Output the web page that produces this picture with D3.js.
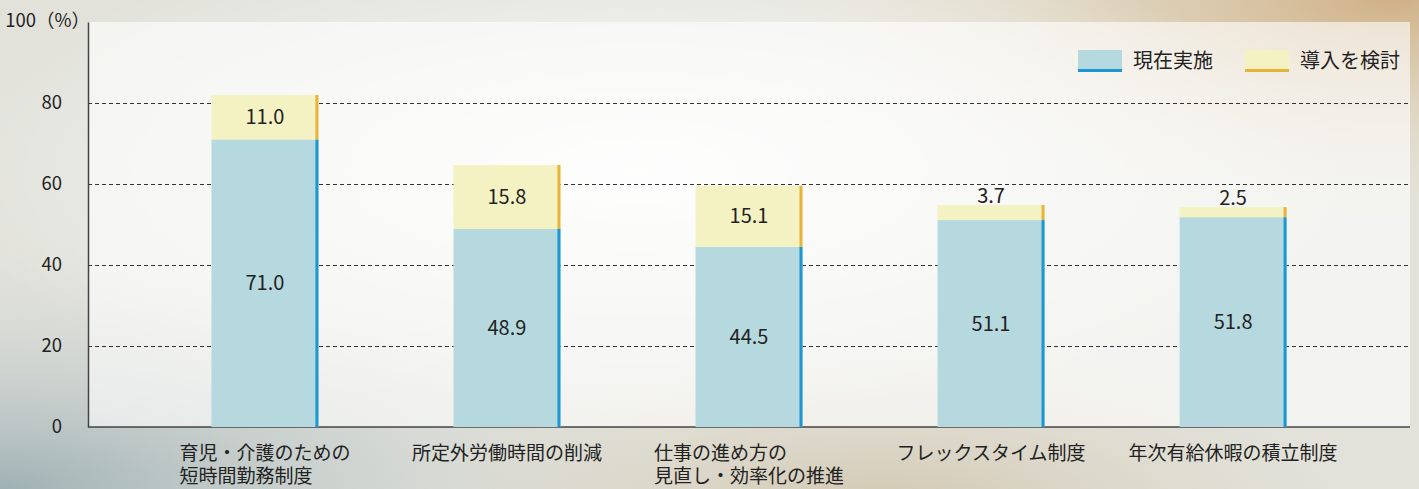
<!DOCTYPE html>
<html>
<head>
<meta charset="utf-8">
<script src="https://d3js.org/d3.v7.min.js"></script>
<style>
  body { margin: 0; background: #ecebe6; }
  svg text { font-family: "Noto Sans CJK JP", "Noto Sans", sans-serif; fill: #222; }
</style>
</head>
<body>
<div id="chart"></div>
<script>
// data
var categories = [
  ["育児・介護のための", "短時間勤務制度"],
  ["所定外労働時間の削減"],
  ["仕事の進め方の", "見直し・効率化の推進"],
  ["フレックスタイム制度"],
  ["年次有給休暇の積立制度"]
];
var current = [71.0, 48.9, 44.5, 51.1, 51.8];
var considering = [11.0, 15.8, 15.1, 3.7, 2.5];
var yTicks = [0, 20, 40, 60, 80, 100];
var seriesNames = ["現在実施", "導入を検討"];

var W = 1419, H = 489;
var margin = {left: 88, right: 9, top: 22, bottom: 62};

var svg = d3.select("#chart").append("svg")
  .attr("width", W).attr("height", H);

// background imitation of the photo
var defs = svg.append("defs");
var g1 = defs.append("radialGradient").attr("id", "bgGray")
  .attr("cx", 0.0).attr("cy", 1.0).attr("r", 0.5);
g1.append("stop").attr("offset", "0%").attr("stop-color", "#9fb1b4").attr("stop-opacity", 1);
g1.append("stop").attr("offset", "100%").attr("stop-color", "#d9dbd8").attr("stop-opacity", 0);
var g2 = defs.append("radialGradient").attr("id", "bgBeige")
  .attr("cx", 0.98).attr("cy", 0.0).attr("r", 0.45);
g2.append("stop").attr("offset", "0%").attr("stop-color", "#cfae82").attr("stop-opacity", 0.95);
g2.append("stop").attr("offset", "100%").attr("stop-color", "#e8e2c8").attr("stop-opacity", 0);
var g3 = defs.append("radialGradient").attr("id", "bgLight")
  .attr("cx", 0.45).attr("cy", 0.35).attr("r", 0.5);
g3.append("stop").attr("offset", "0%").attr("stop-color", "#ffffff").attr("stop-opacity", 0.9);
g3.append("stop").attr("offset", "100%").attr("stop-color", "#ffffff").attr("stop-opacity", 0);
var g4 = defs.append("radialGradient").attr("id", "bgBottom")
  .attr("cx", 0.62).attr("cy", 1.05).attr("r", 0.35);
g4.append("stop").attr("offset", "0%").attr("stop-color", "#c9b99a").attr("stop-opacity", 0.7);
g4.append("stop").attr("offset", "100%").attr("stop-color", "#dcd5c2").attr("stop-opacity", 0);

svg.append("rect").attr("width", W).attr("height", H).attr("fill", "#e2e2db");
svg.append("rect").attr("width", W).attr("height", H).attr("fill", "url(#bgGray)");
svg.append("rect").attr("width", W).attr("height", H).attr("fill", "url(#bgBottom)");
svg.append("rect").attr("width", W).attr("height", H).attr("fill", "url(#bgBeige)");
svg.append("rect").attr("width", W).attr("height", H).attr("fill", "url(#bgLight)");

var x = d3.scaleBand()
  .domain(d3.range(categories.length))
  .range([margin.left, W - margin.right])
  .paddingInner(0.558)
  .paddingOuter(0.51);

var y = d3.scaleLinear()
  .domain([0, 100])
  .range([H - margin.bottom, margin.top]);

// lighter plot area
svg.append("rect")
  .attr("x", margin.left).attr("y", y(100))
  .attr("width", W - margin.right - margin.left)
  .attr("height", y(0) - y(100))
  .attr("fill", "#ffffff").attr("opacity", 0.6);

// dashed grid lines
svg.append("g").selectAll("line")
  .data(yTicks.filter(function(d) { return d > 0 && d < 100; }))
  .enter().append("line")
  .attr("x1", margin.left).attr("x2", W - margin.right)
  .attr("y1", function(d) { return y(d) + 0.5; })
  .attr("y2", function(d) { return y(d) + 0.5; })
  .attr("stroke", "#333").attr("stroke-width", 1)
  .attr("stroke-dasharray", "4,3");

// y axis
var yAxis = svg.append("g")
  .attr("transform", "translate(" + margin.left + ",0)")
  .call(d3.axisLeft(y).tickValues(yTicks).tickSize(0).tickPadding(26)
    .tickFormat(function(d) { return d === 100 ? "100（%）" : d; }));
yAxis.select(".domain").attr("stroke", "#444").attr("stroke-width", 1.5);
yAxis.selectAll("text")
  .style("font-size", "18.5px")
  .style("font-family", "'Noto Sans CJK JP', sans-serif")
  .attr("fill", "#222");
yAxis.selectAll(".tick").filter(function(d) { return d === 100; })
  .select("text").attr("x", 2).attr("dy", "0.25em");

// baseline
svg.append("line")
  .attr("x1", margin.left).attr("x2", W - margin.right)
  .attr("y1", y(0)).attr("y2", y(0))
  .attr("stroke", "#444").attr("stroke-width", 1.5);

// bars
var bars = svg.append("g").selectAll("g")
  .data(d3.range(categories.length))
  .enter().append("g");

bars.append("rect")
  .attr("x", function(i) { return x(i); })
  .attr("y", function(i) { return y(current[i]); })
  .attr("width", x.bandwidth())
  .attr("height", function(i) { return y(0) - y(current[i]); })
  .attr("fill", "#b6d9df");
bars.append("rect")
  .attr("x", function(i) { return x(i); })
  .attr("y", function(i) { return y(current[i] + considering[i]); })
  .attr("width", x.bandwidth())
  .attr("height", function(i) { return y(current[i]) - y(current[i] + considering[i]); })
  .attr("fill", "#f4f1c3");
// coloured right edges
bars.append("rect")
  .attr("x", function(i) { return x(i) + x.bandwidth() - 3; })
  .attr("y", function(i) { return y(current[i]); })
  .attr("width", 3)
  .attr("height", function(i) { return y(0) - y(current[i]); })
  .attr("fill", "#1b97d3");
bars.append("rect")
  .attr("x", function(i) { return x(i) + x.bandwidth() - 3; })
  .attr("y", function(i) { return y(current[i] + considering[i]); })
  .attr("width", 3)
  .attr("height", function(i) { return y(current[i]) - y(current[i] + considering[i]); })
  .attr("fill", "#e6b43a");

// value labels
bars.append("text")
  .attr("x", function(i) { return x(i) + x.bandwidth() / 2; })
  .attr("y", function(i) { return y(current[i] / 2); })
  .attr("text-anchor", "middle").attr("dy", "0.35em")
  .style("font-size", "20px")
  .text(function(i) { return current[i].toFixed(1); });
bars.append("text")
  .attr("x", function(i) { return x(i) + x.bandwidth() / 2; })
  .attr("y", function(i) {
    if (considering[i] < 8) return y(current[i] + considering[i]) - 9;
    return y(current[i] + considering[i] / 2);
  })
  .attr("text-anchor", "middle").attr("dy", "0.35em")
  .style("font-size", "20px")
  .text(function(i) { return considering[i].toFixed(1); });

// category labels (multi-line ones left aligned, block centred)
bars.each(function(i) {
  var lines = categories[i];
  var lg = d3.select(this).append("g");
  lines.forEach(function(l, k) {
    lg.append("text")
      .attr("x", 0).attr("y", y(0) + 33 + k * 23)
      .style("font-size", "19px")
      .attr("fill", "#222")
      .text(l);
  });
  var w = lg.node().getBBox().width;
  lg.attr("transform", "translate(" + (x(i) + x.bandwidth() / 2 - w / 2) + ",0)");
});

// legend
var legend = svg.append("g").attr("transform", "translate(1078,50)");
var legColors = [["#b6d9df", "#1b97d3"], ["#f4f1c3", "#e6b43a"]];
var legX = [0, 167];
seriesNames.forEach(function(name, k) {
  var lg = legend.append("g").attr("transform", "translate(" + legX[k] + ",0)");
  lg.append("rect").attr("width", 44).attr("height", 20).attr("fill", legColors[k][0]);
  lg.append("rect").attr("y", 19).attr("width", 44).attr("height", 3).attr("fill", legColors[k][1]);
  lg.append("text").attr("x", 55).attr("y", 11).attr("dy", "0.35em")
    .style("font-size", "20px").text(name);
});
</script>
</body>
</html>
